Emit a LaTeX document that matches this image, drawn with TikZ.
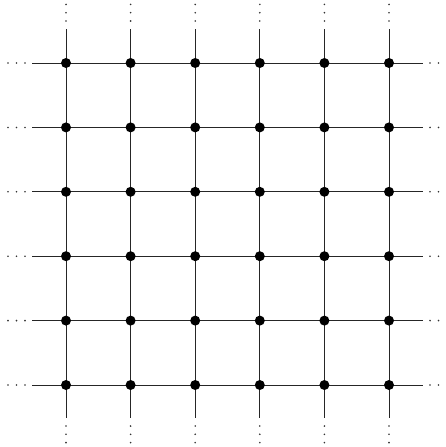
\documentclass[tikz,border=0pt]{standalone}
\begin{document}
\begin{tikzpicture}[x=1pt,y=-1pt,
  gridline/.style={line width=1pt,black!85},
  vertex/.style={circle,fill=black,inner sep=0pt,minimum size=10pt},
  elldot/.style={circle,fill=black!80,inner sep=0pt,minimum size=1.8pt}]
\useasboundingbox (0,0) rectangle (446,447);
% boundary coordinates
\foreach \i in {0,...,5}{
  \pgfmathsetmacro{\p}{66+64.6*\i}
  \pgfmathsetmacro{\q}{63+64.4*\i}
  \coordinate (L\i) at (32,\q);
  \coordinate (R\i) at (423,\q);
  \coordinate (T\i) at (\p,29);
  \coordinate (B\i) at (\p,418);
}
\foreach \i in {0,...,5}{
  \draw[gridline] (L\i) -- (R\i);
  \draw[gridline] (T\i) -- (B\i);
}
\foreach \i in {0,...,5}{
  \foreach \j in {0,...,5}{
    \pgfmathsetmacro{\p}{66+64.6*\i}
    \pgfmathsetmacro{\q}{63+64.4*\j}
    \node[vertex] (v\i\j) at (\p,\q) {};
  }
}
% ellipses
\foreach \i in {0,...,5}{
  \foreach \k in {1,2,3}{
    \node[elldot] (l\i\k) at ([xshift={-7-8.5*(\k-1)}]L\i) {};
    \node[elldot] (r\i\k) at ([xshift={7+8.5*(\k-1)}]R\i) {};
    \node[elldot] (t\i\k) at ([yshift={8+8.3*(\k-1)}]T\i) {};
    \node[elldot] (b\i\k) at ([yshift={-8-8.3*(\k-1)}]B\i) {};
  }
}
\end{tikzpicture}
\end{document}
